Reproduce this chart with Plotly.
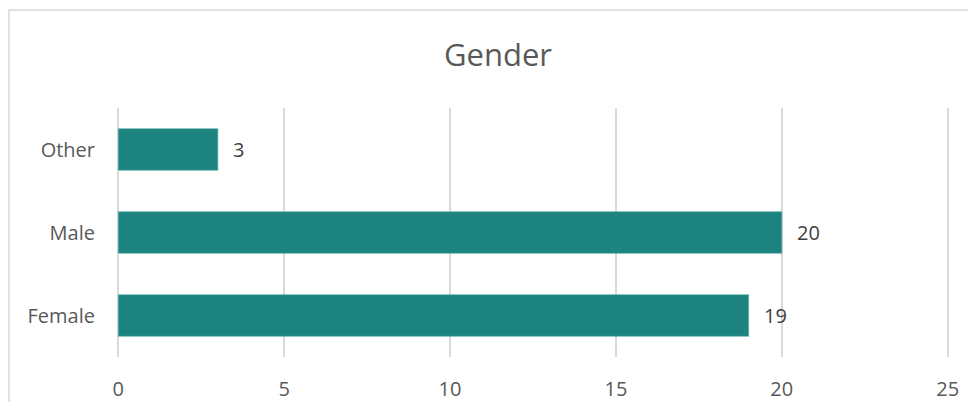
import plotly.graph_objects as go

categories = ["Female", "Male", "Other"]
counts = [19, 20, 3]
x_ticks = [0, 5, 10, 15, 20, 25]
title_text = "Gender"

bar_color = "#1C837E"
text_color = "#595959"
grid_color = "#D9D9D9"
font_family = "Open Sans, Lato, sans-serif"

# page body has an 8px default margin on every side; keep the figure inside the window
OFF = 8
W, H = 976 - 2 * OFF, 410 - 2 * OFF
L, R, T, B = 116 - OFF, 26 - OFF, 108 - OFF, 53 - OFF
pw, ph = W - L - R, H - T - B


def px_x(px):
    return (px - OFF - L) / pw


def px_y(py):
    return (H - B - (py - OFF)) / ph


fig = go.Figure()
fig.add_trace(go.Bar(
    y=categories,
    x=counts,
    orientation="h",
    marker=dict(color=bar_color, line=dict(color="#4FA7A2", width=0.6)),
    hoverinfo="x+y",
))

annotations = [
    dict(x=v, y=c, xref="x", yref="y", text=str(v), showarrow=False,
         xanchor="left", yanchor="middle", xshift=13,
         font=dict(family=font_family, size=20, color="#404040"))
    for c, v in zip(categories, counts)
]

bx0, bx1 = px_x(9), px_x(1000)
by0, by1 = px_y(440), px_y(10)
border_path = f"M {bx0},{by0} L {bx0},{by1} L {bx1},{by1}"

fig.update_layout(
    width=W, height=H,
    autosize=False,
    margin=dict(l=L, r=R, t=T, b=B, autoexpand=False),
    paper_bgcolor="white",
    plot_bgcolor="white",
    showlegend=False,
    bargap=0.5,
    title=dict(text=title_text, x=(498 - OFF) / W, xanchor="center",
               y=1 - (55 - OFF) / H, yanchor="middle", yref="container",
               font=dict(family=font_family, size=31, color=text_color)),
    font=dict(family=font_family, color=text_color),
    xaxis=dict(range=[-0.07, 25.07], tickvals=x_ticks, showgrid=True,
               gridcolor=grid_color, gridwidth=1.5, zeroline=False,
               showline=False, ticks="", ticklabelstandoff=18,
               automargin=False,
               tickfont=dict(family=font_family, size=20, color=text_color)),
    yaxis=dict(categoryorder="array", categoryarray=categories,
               showgrid=False, zeroline=False, showline=False, ticks="",
               ticklabelstandoff=20, automargin=False,
               tickfont=dict(family=font_family, size=20, color=text_color)),
    annotations=annotations,
    shapes=[dict(type="path", xref="paper", yref="paper", path=border_path,
                 line=dict(color=grid_color, width=1.5),
                 fillcolor="rgba(0,0,0,0)", layer="below")],
)

fig.write_html("out.html")
